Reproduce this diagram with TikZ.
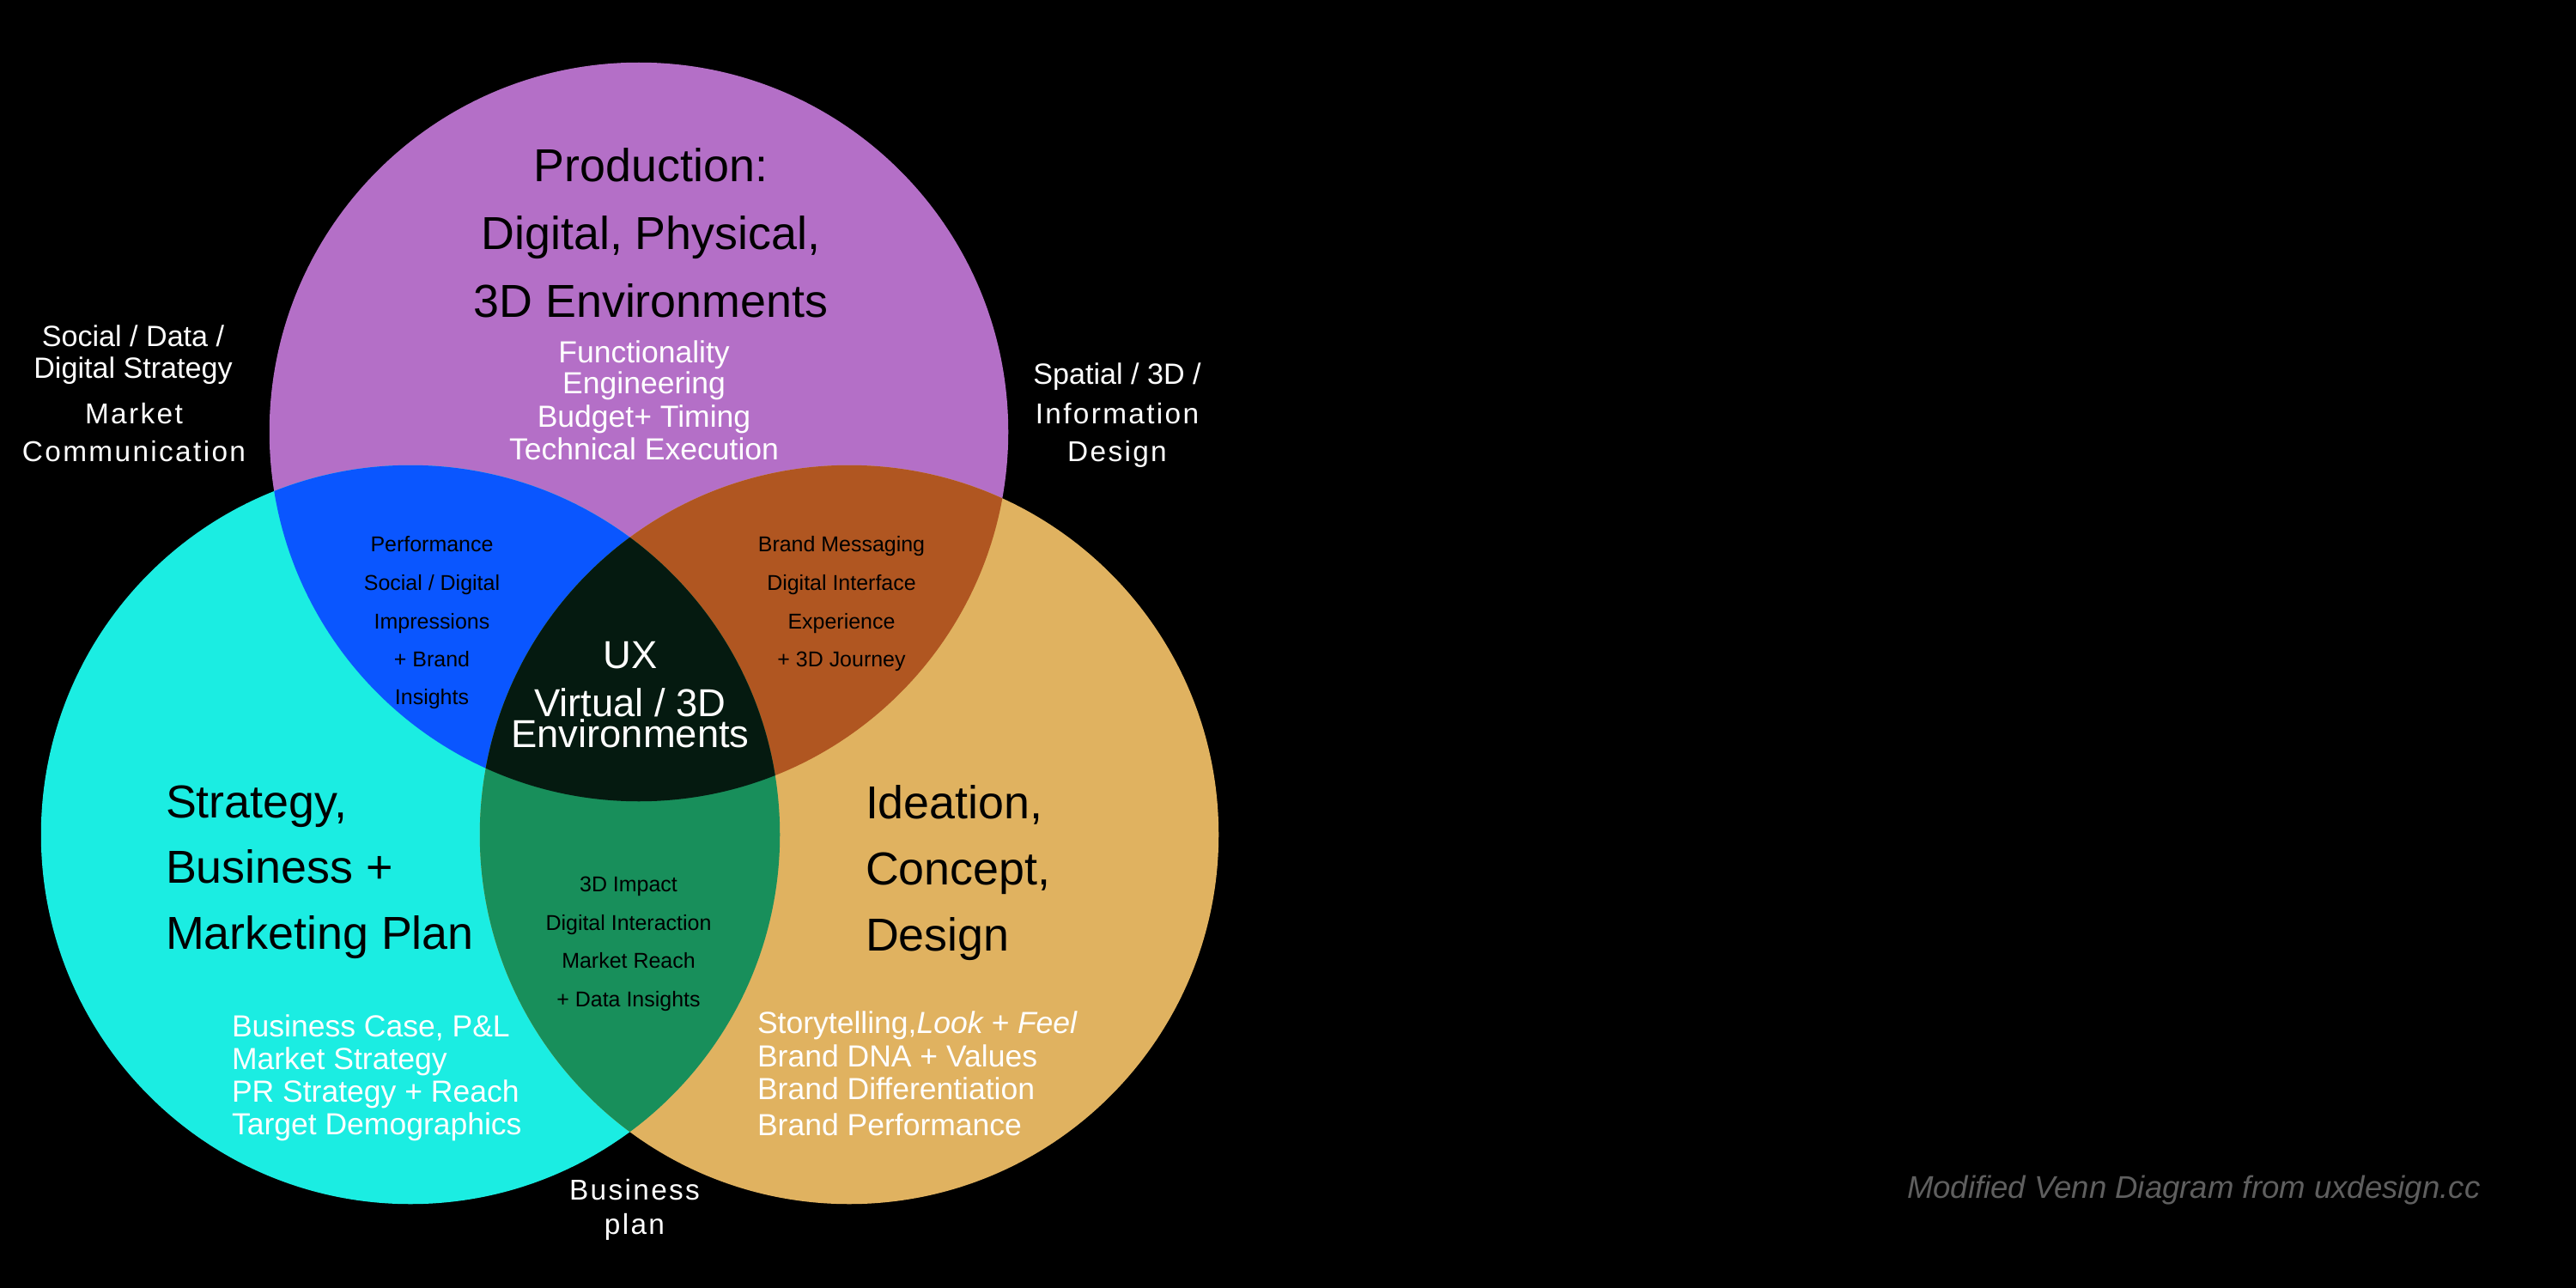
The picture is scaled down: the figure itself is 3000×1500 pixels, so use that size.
\documentclass[tikz,border=0pt]{standalone}
\usepackage{fontspec}
\setmainfont{Liberation Sans}
\newfontfamily\spacedfont[LetterSpace=7]{Liberation Sans}
\definecolor{cPurple}{RGB}{180,111,199}
\definecolor{cCyan}{RGB}{27,237,226}
\definecolor{cOrange}{RGB}{224,178,96}
\definecolor{cBlue}{RGB}{10,86,255}
\definecolor{cBrown}{RGB}{176,86,33}
\definecolor{cGreen}{RGB}{24,143,91}
\definecolor{cDark}{RGB}{5,26,16}
\definecolor{footgray}{RGB}{95,95,95}
\tikzset{
  txt/.style={inner sep=0pt, outer sep=0pt},
  head/.style={txt, text=black, font=\fontsize{15.3}{18}\selectfont},
  wlist/.style={txt, text=white, font=\fontsize{10.1}{12}\selectfont},
  small/.style={txt, text=black, font=\fontsize{7.1}{9}\selectfont},
  outer/.style={txt, text=white, font=\fontsize{9.7}{12}\selectfont},
  spaced/.style={txt, text=white, font=\spacedfont\fontsize{9.5}{12}\selectfont},
  ctr/.style={txt, text=white, font=\fontsize{12.9}{15}\selectfont},
}
\begin{document}
\begin{tikzpicture}[x=0.01cm,y=-0.01cm]
\fill[black] (0,0) rectangle (3000,1500);
\useasboundingbox (0,0) rectangle (3000,1500);
\coordinate (cT) at (744,503);
\coordinate (cL) at (478,972);
\coordinate (cR) at (989,972);
% circles
\fill[cPurple] (cT) circle[radius=4.3cm];
\fill[cCyan] (cL) circle[radius=4.3cm];
\fill[cOrange] (cR) circle[radius=4.3cm];
% pairwise overlaps
\begin{scope}
  \clip (cT) circle[radius=4.3cm];
  \fill[cBlue] (cL) circle[radius=4.3cm];
  \fill[cBrown] (cR) circle[radius=4.3cm];
\end{scope}
\begin{scope}
  \clip (cL) circle[radius=4.3cm];
  \fill[cGreen] (cR) circle[radius=4.3cm];
\end{scope}
\begin{scope}
  \clip (cT) circle[radius=4.3cm];
  \clip (cL) circle[radius=4.3cm];
  \fill[cDark] (cR) circle[radius=4.3cm];
\end{scope}
% Production heading
\node[head, anchor=base] (p1) at (758,212) {Production:};
\node[head, anchor=base] (p2) at (758,291) {Digital, Physical,};
\node[head, anchor=base] (p3) at (758,369) {3D Environments};
\node[wlist, anchor=base] (pl1) at (750,422) {Functionality};
\node[wlist, anchor=base] (pl2) at (750,458) {Engineering};
\node[wlist, anchor=base] (pl3) at (750,497) {Budget+ Timing};
\node[wlist, anchor=base] (pl4) at (750,535) {Technical Execution};
% outside left
\node[outer, anchor=base] (ol1) at (155,403) {Social / Data /};
\node[outer, anchor=base] (ol2) at (155,440) {Digital Strategy};
\node[spaced, anchor=base] (ol3) at (156,493) {Market};
\node[spaced, anchor=base] (ol4) at (156,537) {Communication};
% outside right
\node[outer, anchor=base] (or1) at (1301,447) {Spatial / 3D /};
\node[spaced, anchor=base] (or2) at (1301,493) {Information};
\node[spaced, anchor=base] (or3) at (1301,537) {Design};
% blue overlap
\node[small, anchor=base] (b1) at (503,642) {Performance};
\node[small, anchor=base] (b2) at (503,687) {Social / Digital};
\node[small, anchor=base] (b3) at (503,732) {Impressions};
\node[small, anchor=base] (b4) at (503,776) {+ Brand};
\node[small, anchor=base] (b5) at (503,820) {Insights};
% brown overlap
\node[small, anchor=base] (r1) at (980,642) {Brand Messaging};
\node[small, anchor=base] (r2) at (980,687) {Digital Interface};
\node[small, anchor=base] (r3) at (980,732) {Experience};
\node[small, anchor=base] (r4) at (980,776) {+ 3D Journey};
% centre
\node[ctr, anchor=base] (u1) at (734,778) {UX};
\node[ctr, anchor=base] (u2) at (734,834) {Virtual / 3D};
\node[ctr, anchor=base] (u3) at (734,870) {Environments};
% green overlap
\node[small, anchor=base] (g1) at (732,1038) {3D Impact};
\node[small, anchor=base] (g2) at (732,1083) {Digital Interaction};
\node[small, anchor=base] (g3) at (732,1127) {Market Reach};
\node[small, anchor=base] (g4) at (732,1172) {+ Data Insights};
% cyan heading + list
\node[head, anchor=base west] (s1) at (193,952) {Strategy,};
\node[head, anchor=base west] (s2) at (193,1028) {Business +};
\node[head, anchor=base west] (s3) at (193,1105) {Marketing Plan};
\node[wlist, anchor=base west] (sl1) at (270,1207) {Business Case, P\&L};
\node[wlist, anchor=base west] (sl2) at (270,1245) {Market Strategy};
\node[wlist, anchor=base west] (sl3) at (270,1283) {PR Strategy + Reach};
\node[wlist, anchor=base west] (sl4) at (270,1321) {Target Demographics};
% orange heading + list
\node[head, anchor=base west] (i1) at (1008,953) {Ideation,};
\node[head, anchor=base west] (i2) at (1008,1030) {Concept,};
\node[head, anchor=base west] (i3) at (1008,1107) {Design};
\node[wlist, anchor=base west] (il1) at (882,1203) {Storytelling,\textit{Look + Feel}};
\node[wlist, anchor=base west] (il2) at (882,1242) {Brand DNA + Values};
\node[wlist, anchor=base west] (il3) at (882,1280) {Brand Differentiation};
\node[wlist, anchor=base west] (il4) at (882,1322) {Brand Performance};
% bottom label
\node[spaced, anchor=base] (bp1) at (739,1397) {Business};
\node[spaced, anchor=base] (bp2) at (739,1437) {plan};
% footer
\node[txt, anchor=base west, text=footgray, font=\itshape\fontsize{10.4}{12}\selectfont] (foot) at (2221,1395) {Modified Venn Diagram from uxdesign.cc};
\end{tikzpicture}
\end{document}
